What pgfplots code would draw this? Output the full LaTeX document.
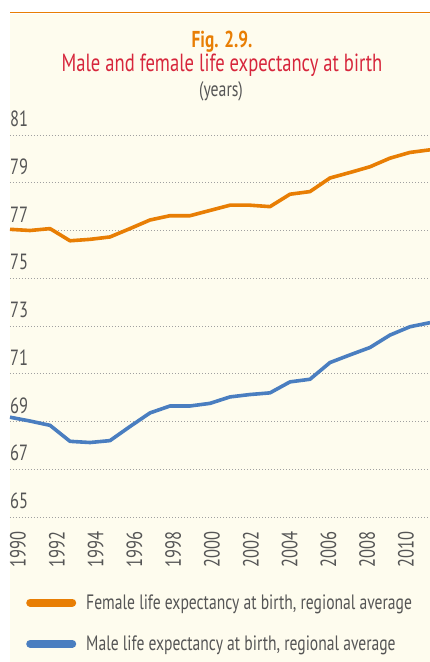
\documentclass[border=0pt]{standalone}
\usepackage{fontspec}
\setmainfont{PT Sans}[FakeStretch=0.75]
\usepackage{pgfplots}
\usepackage{pgfplotstable}
\pgfplotsset{compat=1.18}
\definecolor{cream}{HTML}{FEFCEE}
\definecolor{femor}{HTML}{E87E04}
\definecolor{maleblue}{HTML}{4A7EC0}
\definecolor{titlered}{HTML}{D7263C}
\definecolor{txtgray}{HTML}{555555}
\definecolor{gridgray}{HTML}{A0A0A0}

\pgfplotstableread{
year female male
1990 77.05 69.18
1991 77.00 69.02
1992 77.08 68.84
1993 76.57 68.17
1994 76.63 68.12
1995 76.73 68.20
1996 77.08 68.79
1997 77.44 69.36
1998 77.62 69.65
1999 77.62 69.65
2000 77.84 69.76
2001 78.06 70.03
2002 78.06 70.13
2003 78.00 70.20
2004 78.52 70.66
2005 78.63 70.77
2006 79.20 71.47
2007 79.43 71.79
2008 79.67 72.10
2009 80.03 72.62
2010 80.27 72.97
2011 80.38 73.14
}\lifedata

\begin{document}
\begin{tikzpicture}
\useasboundingbox (0pt,0pt) rectangle (430pt,-662pt);
\fill[cream] (10pt,-13.5pt) rectangle (430pt,-662pt);
\draw[femor, line width=1.2pt] (10pt,-12.3pt) -- (430pt,-12.3pt);
\node[anchor=base, inner sep=0pt, font=\fontsize{23}{26}\selectfont\bfseries, text=femor] at (222pt,-47pt) {Fig. 2.9.};
\node[anchor=base, inner sep=0pt, font=\fontsize{24.8}{27}\selectfont, text=titlered] at (222pt,-71pt) {Male and female life expectancy at birth};
\node[anchor=base, inner sep=0pt, font=\fontsize{21}{24}\selectfont, text=txtgray] at (221pt,-96pt) {(years)};
\begin{axis}[
  at={(10pt,-517pt)}, anchor=south west,
  scale only axis, width=420pt, height=382pt,
  xmin=1990, xmax=2011, ymin=65, ymax=81,
  xtick={1990,1991.94,1993.88,1995.82,1997.76,1999.7,2001.64,2003.58,2005.52,2007.46,2009.4},
  xticklabels={1990,1992,1994,1996,1998,2000,2002,2004,2006,2008,2010},
  ytick={65,67,...,81},
  axis line style={draw=none},
  tick style={draw=none},
  major tick length=0pt,
  ymajorgrids,
  grid style={gridgray, line width=1pt, dash pattern=on 1.2pt off 1.8pt},
  /pgf/number format/assume math mode=true,
  /pgf/number format/1000 sep={},
  ticklabel style={font=\fontsize{22}{24}\selectfont, text=txtgray},
  yticklabel style={anchor=south west, inner sep=0pt, yshift=8pt},
  xticklabel style={rotate=90, anchor=east, inner sep=0pt, yshift=-8pt, xshift=-14pt},
  clip=false,
  legend cell align=left,
  legend style={at={(0.031,-0.197)}, anchor=north west, draw=none, fill=none,
    font=\fontsize{20.8}{24}\selectfont, text=txtgray, row sep=25pt,
    nodes={inner sep=0pt}},
  legend image code/.code={\draw[line width=8pt, line cap=round] (4pt,0pt) -- (46pt,0pt);},
]
\addplot[femor, line width=3.6pt, line join=round] table[x=year, y=female] {\lifedata};
\addlegendentry{\hspace{10pt}Female life expectancy at birth, regional average}
\addplot[maleblue, line width=3.6pt, line join=round] table[x=year, y=male] {\lifedata};
\addlegendentry{\hspace{10pt}Male life expectancy at birth, regional average}
\end{axis}
\end{tikzpicture}
\end{document}
